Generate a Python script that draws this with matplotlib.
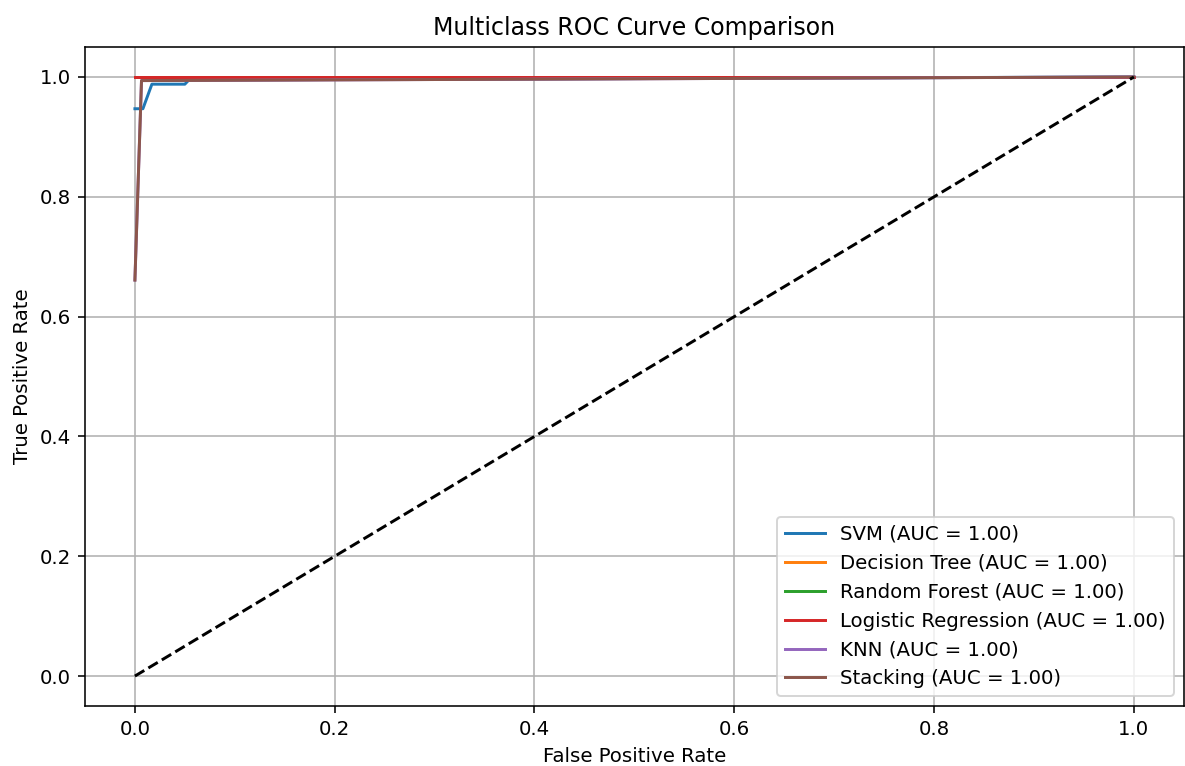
import numpy as np
import matplotlib
matplotlib.use("Agg")
import matplotlib.pyplot as plt

# ROC curves (fpr, tpr per model)
models = ["SVM", "Decision Tree", "Random Forest", "Logistic Regression", "KNN", "Stacking"]
aucs = [1.00, 1.00, 1.00, 1.00, 1.00, 1.00]

svm_fpr = [0.0, 0.008, 0.017, 0.050, 0.054, 1.0]
svm_tpr = [0.947, 0.947, 0.988, 0.988, 0.995, 1.0]

dt_fpr = [0.0, 1.0]
dt_tpr = [1.0, 1.0]

rf_fpr = [0.0, 1.0]
rf_tpr = [1.0, 1.0]

lr_fpr = [0.0, 1.0]
lr_tpr = [1.0, 1.0]

knn_fpr = [0.0, 0.0066, 1.0]
knn_tpr = [0.661, 0.994, 1.0]

stack_fpr = [0.0, 0.0066, 1.0]
stack_tpr = [0.661, 0.994, 1.0]

fprs = [svm_fpr, dt_fpr, rf_fpr, lr_fpr, knn_fpr, stack_fpr]
tprs = [svm_tpr, dt_tpr, rf_tpr, lr_tpr, knn_tpr, stack_tpr]

dpi = 142
fig = plt.figure(figsize=(1185 / dpi, 766 / dpi), dpi=dpi)
ax = fig.add_subplot(111)
fig.subplots_adjust(left=0.0717, right=0.999, top=0.9386, bottom=0.0783)

for name, auc, fpr, tpr in zip(models, aucs, fprs, tprs):
    ax.plot(fpr, tpr, label=f"{name} (AUC = {auc:.2f})")

ax.plot([0, 1], [0, 1], "k--")
ax.set_xlabel("False Positive Rate")
ax.set_ylabel("True Positive Rate")
ax.set_title("Multiclass ROC Curve Comparison")
ax.legend(loc="lower right")
ax.grid(True)

fig.savefig("out.png", dpi=dpi)
